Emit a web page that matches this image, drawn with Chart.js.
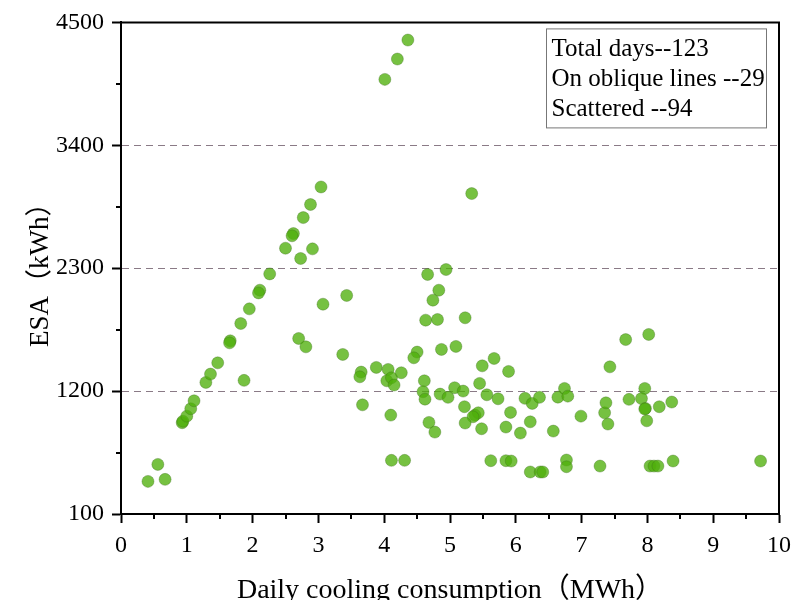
<!DOCTYPE html>
<html>
<head>
<meta charset="utf-8">
<script src="https://cdn.jsdelivr.net/npm/chart.js@4.4.1/dist/chart.umd.min.js"></script>
<style>
  html, body { margin: 0; padding: 0; background: #fff; }
  #wrap { width: 792px; height: 600px; }
</style>
</head>
<body>
<div id="wrap"><canvas id="chart" width="792" height="600"></canvas></div>
<script>
// days where ESA equals cooling consumption (the oblique line)
const obliqueX = [0.41, 0.56, 0.93, 0.94, 1.00, 1.06, 1.11, 1.29, 1.36, 1.47, 1.66, 1.65, 1.82,
  1.95, 2.11, 2.09, 2.26, 2.50, 2.62, 2.60, 2.77, 2.88, 3.04, 4.01, 4.20, 4.36];
const obliqueY = [392, 544, 917, 930, 976, 1042, 1113, 1278, 1352, 1453, 1650, 1632, 1805,
  1936, 2103, 2079, 2249, 2479, 2610, 2590, 2753, 2870, 3027, 3990, 4172, 4342];

// the remaining scattered days
const scatterX = [0.67, 1.87, 2.70, 2.81, 2.73, 2.91, 3.07, 3.37, 3.43, 5.33,
  3.67, 3.65, 3.63, 3.88, 4.06, 4.04, 4.11, 4.15, 4.26, 4.10,
  4.11, 4.31, 4.50, 4.45, 4.87, 5.09, 4.61, 4.59, 4.62, 4.68,
  4.77, 4.66, 4.94, 4.83, 4.74, 4.63, 4.81, 5.23, 4.85, 4.97,
  5.07, 5.20, 5.45, 5.56, 5.73, 5.49, 5.67, 5.89, 5.22, 5.38,
  5.43, 5.35, 5.23, 5.48, 5.62, 5.85, 5.93, 5.92, 5.85, 6.07,
  6.22, 6.14, 6.25, 6.36, 6.22, 6.37, 6.41, 6.57, 6.64, 6.74,
  6.79, 6.77, 6.77, 6.99, 7.28, 7.35, 7.37, 7.40, 7.43, 7.67,
  7.72, 7.96, 7.91, 7.97, 7.96, 7.99, 8.02, 8.18, 8.37, 8.04,
  8.10, 8.16, 8.39, 9.72];
const scatterY = [410, 1296, 1671, 1596, 2387, 2473, 1978, 1528, 2056, 2968,
  1077, 1370, 1328, 1412, 1394, 1292, 1319, 1254, 1364, 985,
  580, 580, 1549, 1498, 1573, 1600, 1292, 1194, 1128, 920,
  833, 2244, 2288, 2103, 2014, 1835, 1841, 1856, 1173, 1144,
  1230, 1200, 1269, 1167, 1131, 1426, 1492, 1376, 1060, 985,
  1006, 970, 914, 863, 577, 577, 574, 1009, 878, 824,
  925, 1135, 1090, 1144, 476, 476, 476, 842, 1146, 1224,
  1155, 583, 523, 976, 529, 1006, 1095, 905, 1417, 1661,
  1126, 1224, 1133, 1045, 1040, 934, 1707, 1060, 1102, 529,
  529, 529, 574, 574];

const yMinorTicks = [650, 1750, 2850, 3950];
const xMinorTicks = [0.5, 1.5, 2.5, 3.5, 4.5, 5.5, 6.5, 7.5, 8.5, 9.5];
const dashedLevels = [1200, 2300, 3400];
const noteLines = ['Total days--123', 'On oblique lines --29', 'Scattered --94'];

const serif = '"Liberation Serif", "Times New Roman", "Noto Sans CJK SC", serif';
const toPoints = (xs, ys) => xs.map((x, i) => ({ x, y: ys[i] }));

const dotStyle = {
  backgroundColor: 'rgba(80,175,12,0.78)',
  borderColor: 'rgba(60,110,30,0.35)',
  borderWidth: 1,
  pointRadius: 6,
  pointHoverRadius: 6
};

// top/right frame, minor ticks and the note box
const framePlugin = {
  id: 'frame',
  afterDraw(chart) {
    const { ctx, chartArea: a, scales: { x, y } } = chart;
    ctx.save();
    ctx.strokeStyle = '#000';
    ctx.lineWidth = 2;
    ctx.beginPath();
    ctx.moveTo(a.left, a.top);
    ctx.lineTo(a.right, a.top);
    ctx.lineTo(a.right, a.bottom);
    ctx.stroke();

    ctx.beginPath();
    yMinorTicks.forEach(v => {
      const py = Math.round(y.getPixelForValue(v));
      ctx.moveTo(a.left - 5, py); ctx.lineTo(a.left, py);
    });
    xMinorTicks.forEach(v => {
      const px = Math.round(x.getPixelForValue(v));
      ctx.moveTo(px, a.bottom); ctx.lineTo(px, a.bottom + 5);
    });
    ctx.stroke();

    const bx = a.right - 232.5, by = a.top + 6.5;
    ctx.fillStyle = '#fff';
    ctx.fillRect(bx, by, 220, 99);
    ctx.strokeStyle = '#777';
    ctx.lineWidth = 1;
    ctx.strokeRect(bx, by, 220, 99);
    ctx.fillStyle = '#000';
    ctx.font = '25px ' + serif;
    ctx.textBaseline = 'alphabetic';
    noteLines.forEach((t, i) => ctx.fillText(t, bx + 5, by + 27 + i * 30));
    ctx.restore();
  }
};

new Chart(document.getElementById('chart'), {
  type: 'scatter',
  data: {
    datasets: [
      Object.assign({ label: 'On oblique lines', data: toPoints(obliqueX, obliqueY) }, dotStyle),
      Object.assign({ label: 'Scattered', data: toPoints(scatterX, scatterY) }, dotStyle)
    ]
  },
  options: {
    responsive: false,
    animation: false,
    layout: { padding: { top: 22, right: 13, left: 0, bottom: 0 } },
    plugins: { legend: { display: false }, tooltip: { enabled: false } },
    scales: {
      x: {
        type: 'linear',
        min: 0, max: 10,
        afterFit: s => { s.height = 86; s.paddingLeft = 0; s.paddingRight = 0; },
        ticks: { stepSize: 1, color: '#000', padding: 8, font: { family: serif, size: 24 } },
        grid: { drawOnChartArea: false, tickLength: 9, tickWidth: 2, tickColor: '#000' },
        border: { color: '#000', width: 2 },
        title: {
          display: true, text: 'Daily cooling consumption（MWh）', color: '#000',
          font: { family: serif, size: 28, lineHeight: 1 }, padding: { top: 0, bottom: -5 }
        }
      },
      y: {
        min: 100, max: 4500,
        afterFit: s => { s.width = 121; },
        ticks: {
          stepSize: 1100, color: '#000', padding: 8, font: { family: serif, size: 24 },
          callback: v => String(v)
        },
        grid: {
          color: c => dashedLevels.includes(c.tick && c.tick.value) ? '#8a7a86' : 'rgba(0,0,0,0)',
          lineWidth: 1,
          tickLength: 9, tickWidth: 2, tickColor: '#000', tickBorderDash: []
        },
        border: { color: '#000', width: 2, dash: [7, 5] },
        title: {
          display: true, text: 'ESA（kWh）', color: '#000',
          font: { family: serif, size: 27, lineHeight: 1 }, padding: { top: 27, bottom: 0 }
        }
      }
    }
  },
  plugins: [framePlugin]
});
</script>
</body>
</html>
